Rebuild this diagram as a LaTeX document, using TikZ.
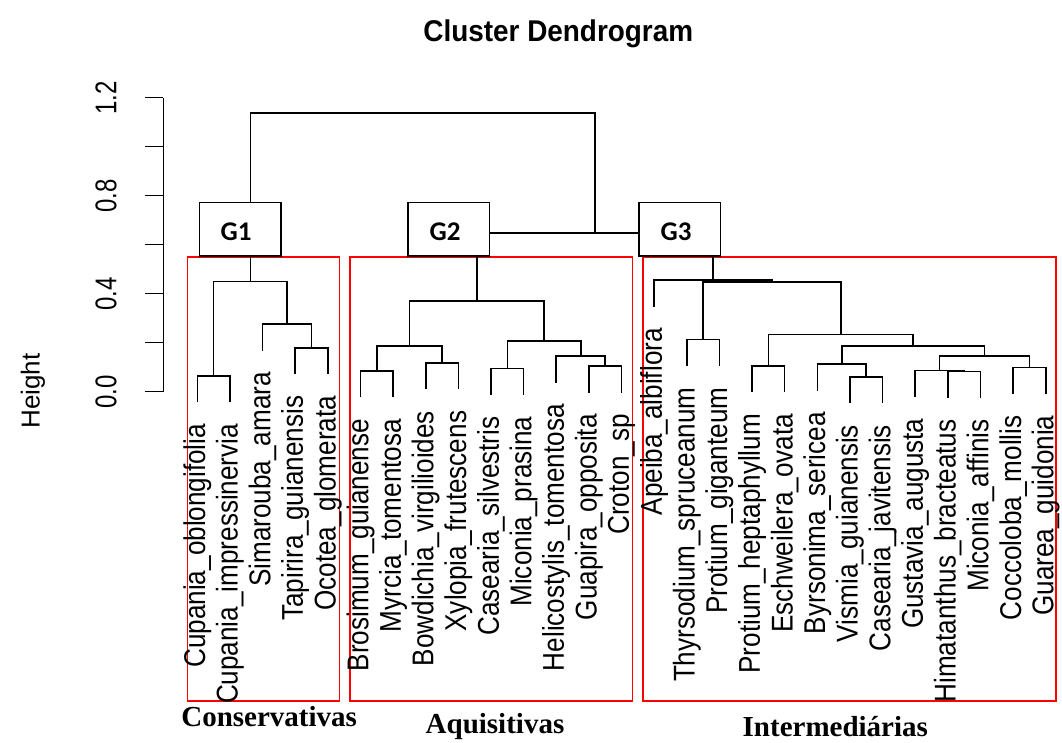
\documentclass[tikz,border=0pt]{standalone}
\usepackage{graphicx}
\usepackage{fontspec}
\setmainfont{Liberation Sans}
\newfontfamily\grpserif{Liberation Serif}
\newfontfamily\gfont{Carlito}
\newcommand{\narrowtxt}[2]{\scalebox{#1}[1]{#2}}
\begin{document}
\begin{tikzpicture}[x=1pt,y=-1pt,
  dendro/.style={draw=black,line width=1.6pt},
  redbox/.style={draw=red,line width=1.6pt},
  gbox/.style={draw=black,fill=white,line width=1.5pt,minimum width=81.7pt,minimum height=53.7pt,inner sep=0pt},
  gtext/.style={inner sep=0pt,font=\gfont\bfseries\fontsize{27}{28}\selectfont},
  leaflab/.style={rotate=90,anchor=east,inner sep=0pt,font=\fontsize{30}{32}\selectfont},
  ticklab/.style={rotate=90,inner sep=0pt,font=\fontsize{30}{32}\selectfont},
  ylablab/.style={rotate=90,inner sep=0pt,font=\fontsize{26}{28}\selectfont},
  grplab/.style={anchor=base,inner sep=0pt,font=\grpserif\bfseries\fontsize{29}{30}\selectfont},
  titlelab/.style={anchor=base,inner sep=0pt,font=\bfseries\fontsize{30}{32}\selectfont}]
\useasboundingbox[fill=white] (0,0) rectangle (1062,742);

% title
\node[titlelab] (title) at (558.3,41.7) {\narrowtxt{0.93}{Cluster Dendrogram}};

% y axis
\draw[line width=1.4pt] (163.3,97.7) -- (163.3,391.7);
\foreach \k in {0,...,6}{
  \draw[line width=1.4pt] (145,{391.7-49*\k}) -- (163.3,{391.7-49*\k});
}
\foreach \k/\v in {0/0.0,2/0.4,4/0.8,6/1.2}{
  \node[ticklab] (tick\k) at (106,{391.7-49*\k}) {\narrowtxt{0.8}{\v}};
}
\node[ylablab] (ylab) at (33,391) {Height};

% red group boxes
\draw[redbox] (187.3,256.7) rectangle (339.3,700.7);
\draw[redbox] (350,256.7) rectangle (632.3,700.7);
\draw[redbox] (642.7,256.7) rectangle (1056,700.7);

% leaves
\foreach \i/\x/\y/\t in {
  1/197.3/402.2/Cupania\_oblongifolia,
  2/229.9/402.2/Cupania\_impressinervia,
  3/262.6/350.5/Simarouba\_amara,
  4/295.2/374.2/Tapirira\_guianensis,
  5/327.8/374.2/Ocotea\_glomerata,
  6/360.5/397.2/Brosimum\_guianense,
  7/393.1/397.2/Myrcia\_tomentosa,
  8/425.7/389.2/Bowdichia\_virgilioides,
  9/458.3/389.2/Xylopia\_frutescens,
  10/491.0/394.8/Casearia\_silvestris,
  11/523.6/394.8/Miconia\_prasina,
  12/556.2/382.5/Helicostylis\_tomentosa,
  13/588.9/392.5/Guapira\_opposita,
  14/621.5/392.5/Croton\_sp,
  15/654.1/306.5/Apeiba\_albiflora,
  16/686.8/365.8/Thyrsodium\_spruceanum,
  17/719.4/365.8/Protium\_giganteum,
  18/752.0/392.2/Protium\_heptaphyllum,
  19/784.6/392.2/Eschweilera\_ovata,
  20/817.3/390.5/Byrsonima\_sericea,
  21/849.9/403.2/Vismia\_guianensis,
  22/882.5/403.2/Casearia\_javitensis,
  23/915.2/396.8/Gustavia\_augusta,
  24/947.8/397.8/Himatanthus\_bracteatus,
  25/980.4/397.8/Miconia\_affinis,
  26/1013.1/393.8/Coccoloba\_mollis,
  27/1045.7/393.8/Guarea\_guidonia}{
  \coordinate (L\i) at (\x,\y);
  \node[leaflab] (T\i) at (\x,{\y+21.5}) {\narrowtxt{0.87}{\t}};
}

% merge points
\coordinate (a1) at (213.6,375.7);
\coordinate (a2) at (311.5,347.7);
\coordinate (a3) at (287.05,324);
\coordinate (a4) at (250.3,281.3);
\coordinate (b1) at (376.8,370.7);
\coordinate (b2) at (442.0,362.7);
\coordinate (b3) at (409.4,346);
\coordinate (b4) at (507.3,368.3);
\coordinate (b5) at (605.2,366);
\coordinate (b6) at (580.7,356);
\coordinate (b7) at (544.0,340.7);
\coordinate (b8) at (476.7,300.7);
\coordinate (c1) at (703.1,339.3);
\coordinate (c2) at (768.3,365.7);
\coordinate (c3) at (866.2,376.7);
\coordinate (c4) at (841.75,364);
\coordinate (c5) at (964.1,371.3);
\coordinate (c6) at (939.65,370.3);
\coordinate (c7) at (1029.4,367.3);
\coordinate (c8) at (984.5,356);
\coordinate (c9) at (913.1,346);
\coordinate (c10) at (840.7,334.3);
\coordinate (c11) at (771.9,281.7);
\coordinate (c12) at (713.0,280);
\coordinate (d1) at (594.85,232.7);
\coordinate (root) at (422.6,112.7);

% dendrogram branches
\draw[dendro] (L1) |- (a1) -| (L2);
\draw[dendro] (L4) |- (a2) -| (L5);
\draw[dendro] (L3) |- (a3) -| (a2);
\draw[dendro] (a1) |- (a4) -| (a3);
\draw[dendro] (L6) |- (b1) -| (L7);
\draw[dendro] (L8) |- (b2) -| (L9);
\draw[dendro] (b1) |- (b3) -| (b2);
\draw[dendro] (L10) |- (b4) -| (L11);
\draw[dendro] (L13) |- (b5) -| (L14);
\draw[dendro] (L12) |- (b6) -| (b5);
\draw[dendro] (b4) |- (b7) -| (b6);
\draw[dendro] (b3) |- (b8) -| (b7);
\draw[dendro] (L16) |- (c1) -| (L17);
\draw[dendro] (L18) |- (c2) -| (L19);
\draw[dendro] (L21) |- (c3) -| (L22);
\draw[dendro] (L20) |- (c4) -| (c3);
\draw[dendro] (L24) |- (c5) -| (L25);
\draw[dendro] (L23) |- (c6) -| (c5);
\draw[dendro] (L26) |- (c7) -| (L27);
\draw[dendro] (c6) |- (c8) -| (c7);
\draw[dendro] (c4) |- (c9) -| (c8);
\draw[dendro] (c2) |- (c10) -| (c9);
\draw[dendro] (c1) |- (c11) -| (c10);
\draw[dendro] (L15) |- (c12) -| (c11);
\draw[dendro] (b8) |- (d1) -| (c12);
\draw[dendro] (a4) |- (root) -| (d1);

% group boxes
\node[gbox] (G1) at (240.15,229.15) {};
\node[gbox] (G2) at (448.85,229.15) {};
\node[gbox] (G3) at (679.85,229.15) {};
\node[gtext] (G1t) at (236,231.7) {G1};
\node[gtext] (G2t) at (445,231.7) {G2};
\node[gtext] (G3t) at (676,231.7) {G3};

% group names
\node[grplab] (cons) at (269.2,726.7) {Conservativas};
\node[grplab] (aqui) at (495,733.5) {Aquisitivas};
\node[grplab] (inter) at (835.3,736.5) {Intermediárias};
\end{tikzpicture}
\end{document}
